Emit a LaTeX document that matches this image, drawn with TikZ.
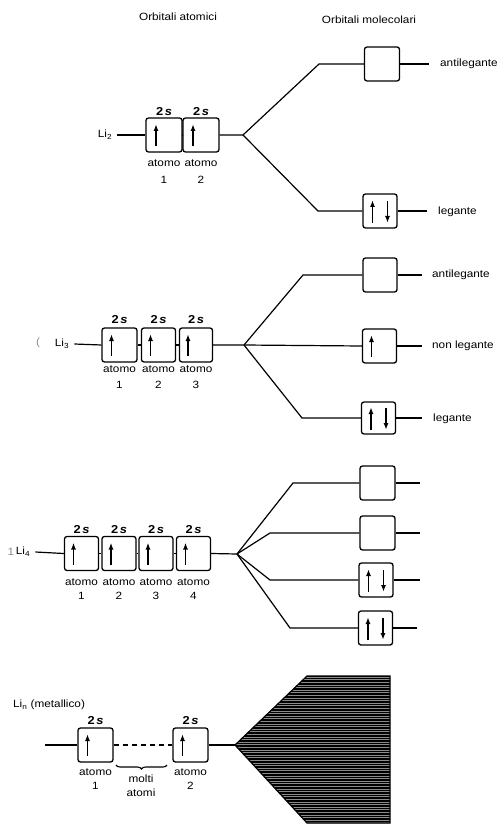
\documentclass[tikz,border=0pt]{standalone}
\usepackage{fontspec}
\setmainfont{Liberation Sans}[FakeStretch=1.12]
\usetikzlibrary{arrows.meta,calc,decorations.pathreplacing}
\newcommand\spinup[1]{\draw[arr] ($(#1.center)+(-8,11)$) -- ($(#1.center)+(-8,-11)$);}
\newcommand\spinpair[1]{\draw[arr] ($(#1.center)+(-7.5,12)$) -- ($(#1.center)+(-7.5,-11)$);
  \draw[arr] ($(#1.center)+(7.5,-10)$) -- ($(#1.center)+(7.5,12)$);}
\newcommand\twos{2\kern1.5pt\textit{s}}
\begin{document}
\begin{tikzpicture}[x=1pt,y=-1pt,
  box/.style={draw,line width=1.3pt,rounded corners=2.5pt,minimum width=35pt,minimum height=34pt,inner sep=0pt},
  ln/.style={line width=1.2pt},
  lbl/.style={font=\fontsize{10.5}{12}\selectfont,inner sep=0pt},
  orb/.style={font=\bfseries\fontsize{11.5}{12}\selectfont,inner sep=0pt},
  faint/.style={lbl,text=black!45},
  arr/.style={line width=1.4pt,-{Latex[length=7pt,width=5pt]}}
]
\useasboundingbox (0,0) rectangle (503,826);
\fill[white] (0,0) rectangle (503,826);

% titles
\node[lbl] (t1) at (178,17) {Orbitali atomici};
\node[lbl] (t2) at (369,20) {Orbitali molecolari};

% ---------------- Li2 ----------------
\node[lbl] (L2) at (105,135) {Li\textsubscript{2}};
\node[box,minimum width=36pt] (A1) at (164,135) {};
\node[box,minimum width=36pt] (A2) at (201,135) {};
\spinup{A1}\spinup{A2}
\node[orb] (s11) at (164,112) {\twos};
\node[orb] (s12) at (201,112) {\twos};
\node[lbl] (a11) at (164,163) {atomo};
\node[lbl] (n11) at (164,180) {1};
\node[lbl] (a12) at (201,163) {atomo};
\node[lbl] (n12) at (201,180) {2};
\coordinate (J1) at (243,135);
\coordinate (B1a) at (319,64);
\coordinate (B1b) at (318,211);
\node[box] (M1a) at (382,64) {};
\node[box,minimum width=34pt] (M1b) at (380,211) {};
\spinpair{M1b}
\coordinate (E1a) at (429,64);
\coordinate (E1b) at (427,211);
\node[lbl,anchor=west] (T1a) at (440,64) {antilegante};
\node[lbl,anchor=west] (T1b) at (438,212) {legante};
\draw[ln] ([xshift=5pt]L2.east) -- (A1.west);
\draw[ln] (A1.east) -- (A2.west);
\draw[ln] (A2.east) -- (J1) -- (B1a) -- (M1a.west);
\draw[ln] (J1) -- (B1b) -- (M1b.west);
\draw[ln] (M1a.east) -- (E1a);
\draw[ln] (M1b.east) -- (E1b);

% ---------------- Li3 ----------------
\node[faint] (par) at (38,343) {(};
\node[lbl] (L3) at (62,344) {Li\textsubscript{3}};
\node[box] (C1) at (119.5,345) {};
\node[box,minimum width=34pt] (C2) at (158.5,345) {};
\node[box,minimum width=33pt] (C3) at (196,345) {};
\spinup{C1}\spinup{C2}\spinup{C3}
\node[orb] (s21) at (119.5,320) {\twos};
\node[orb] (s22) at (158.5,320) {\twos};
\node[orb] (s23) at (196,320) {\twos};
\node[lbl] (a21) at (119.5,369) {atomo};
\node[lbl] (a22) at (158.5,369) {atomo};
\node[lbl] (a23) at (196,369) {atomo};
\node[lbl] (n21) at (119.5,385) {1};
\node[lbl] (n22) at (158.5,385) {2};
\node[lbl] (n23) at (196,385) {3};
\coordinate (J2) at (244,345);
\coordinate (B2a) at (303,275);
\coordinate (B2c) at (302,418);
\node[box,minimum width=34pt] (M2a) at (380,275) {};
\node[box,minimum width=34pt] (M2b) at (379.5,346) {};
\node[box,minimum width=34pt,minimum height=32pt] (M2c) at (378.5,418) {};
\spinup{M2b}
\spinpair{M2c}
\coordinate (E2a) at (422,275);
\coordinate (E2b) at (422,346);
\coordinate (E2c) at (422,418);
\node[lbl,anchor=west] (T2a) at (432,275) {antilegante};
\node[lbl,anchor=west] (T2b) at (432,346) {non legante};
\node[lbl,anchor=west] (T2c) at (433,419) {legante};
\draw[ln] ([xshift=5pt]L3.east) -- (C1.west);
\draw[ln] (C1.east) -- (C2.west);
\draw[ln] (C2.east) -- (C3.west);
\draw[ln] (C3.east) -- (J2) -- (B2a) -- (M2a.west);
\draw[ln] (J2) -- (M2b.west);
\draw[ln] (J2) -- (B2c) -- (M2c.west);
\draw[ln] (M2a.east) -- (E2a);
\draw[ln] (M2b.east) -- (E2b);
\draw[ln] (M2c.east) -- (E2c);

% ---------------- Li4 ----------------
\node[faint] (one) at (11,552) {1};
\node[lbl] (L4) at (23,552) {Li\textsubscript{4}};
\node[box,minimum width=34pt] (D1) at (81.5,553.5) {};
\node[box,minimum width=34pt] (D2) at (119,553.5) {};
\node[box,minimum width=34pt] (D3) at (156,553.5) {};
\node[box,minimum width=34pt] (D4) at (193.5,553.5) {};
\spinup{D1}\spinup{D2}\spinup{D3}\spinup{D4}
\node[orb] (s31) at (81.5,530) {\twos};
\node[orb] (s32) at (119,530) {\twos};
\node[orb] (s33) at (156,530) {\twos};
\node[orb] (s34) at (193.5,530) {\twos};
\node[lbl] (a31) at (81.5,582) {atomo};
\node[lbl] (a32) at (119,582) {atomo};
\node[lbl] (a33) at (156,582) {atomo};
\node[lbl] (a34) at (193.5,582) {atomo};
\node[lbl] (n31) at (81.5,596) {1};
\node[lbl] (n32) at (119,596) {2};
\node[lbl] (n33) at (156,596) {3};
\node[lbl] (n34) at (193.5,596) {4};
\coordinate (J3) at (237,554);
\coordinate (B3a) at (293,483);
\coordinate (B3b) at (270,533);
\coordinate (B3c) at (270,580);
\coordinate (B3d) at (290,628);
\node[box] (M3a) at (377.5,483) {};
\node[box] (M3b) at (377.5,533) {};
\node[box,minimum width=34pt] (M3c) at (376,580) {};
\node[box,minimum width=34pt] (M3d) at (375.5,628) {};
\spinpair{M3c}\spinpair{M3d}
\coordinate (E3a) at (420,483);
\coordinate (E3b) at (420,533);
\coordinate (E3c) at (420,580);
\coordinate (E3d) at (417,628);
\draw[ln] ([xshift=5pt]L4.east) -- (D1.west);
\draw[ln] (D1.east) -- (D2.west);
\draw[ln] (D2.east) -- (D3.west);
\draw[ln] (D3.east) -- (D4.west);
\draw[ln] (D4.east) -- (J3);
\draw[ln] (J3) -- (B3a) -- (M3a.west);
\draw[ln] (J3) -- (B3b) -- (M3b.west);
\draw[ln] (J3) -- (B3c) -- (M3c.west);
\draw[ln] (J3) -- (B3d) -- (M3d.west);
\draw[ln] (M3a.east) -- (E3a);
\draw[ln] (M3b.east) -- (E3b);
\draw[ln] (M3c.east) -- (E3c);
\draw[ln] (M3d.east) -- (E3d);

% ---------------- Li_n ----------------
\node[lbl,anchor=west] (Ln) at (13,705) {Li\textsubscript{n} (metallico)};
\coordinate (S4) at (45,745);
\node[box] (F1) at (95.5,745) {};
\node[box] (F2) at (190.5,745) {};
\spinup{F1}\spinup{F2}
\node[orb] (s41) at (95.5,721) {\twos};
\node[orb] (s42) at (190.5,721) {\twos};
\node[lbl] (a41) at (95.5,772) {atomo};
\node[lbl] (a42) at (190.5,772) {atomo};
\node[lbl] (n41) at (95.5,786) {1};
\node[lbl] (n42) at (190.5,786) {2};
\node[lbl] (mo) at (141,779) {molti};
\node[lbl] (at) at (141,793) {atomi};
\draw[decorate,decoration={brace,mirror,amplitude=4pt},line width=1.1pt] (116,765) -- (167,765);
\draw[ln] (S4) -- (F1.west);
\draw[line width=1.3pt,dash pattern=on 5pt off 4pt] (F1.east) -- (F2.west);
\coordinate (P0) at (235,745);
\coordinate (P1) at (307,676);
\coordinate (P2) at (390,676);
\coordinate (P3) at (390,823);
\coordinate (P4) at (307,823);
\draw[ln] (F2.east) -- (P0);
\begin{scope}
\clip (P0) -- (P1) -- (P2) -- (P3) -- (P4) -- cycle;
\fill[black!45] (230,670) rectangle (395,830);
\foreach \y in {676,678.6,...,825} \draw[line width=1.7pt] (230,\y) -- (395,\y);
\end{scope}
\draw[line width=1.2pt] (P0) -- (P1) -- (P2) -- (P3) -- (P4) -- cycle;
\end{tikzpicture}
\end{document}
